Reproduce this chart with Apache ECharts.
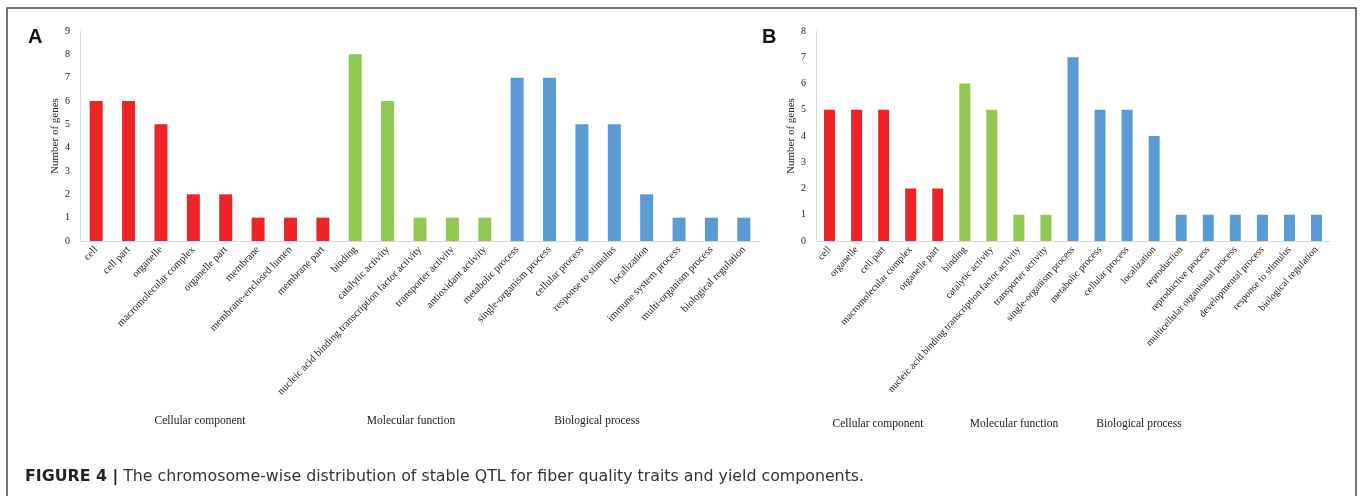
<!DOCTYPE html>
<html>
<head>
<meta charset="utf-8">
<script src="https://cdn.jsdelivr.net/npm/echarts@6/dist/echarts.min.js"></script>
<style>
html, body { margin: 0; padding: 0; background: #fff; }
#chart { width: 1360px; height: 496px; }
</style>
</head>
<body>
<div id="chart"></div>
<script>
// panel A
const catsA = ['cell', 'cell part', 'organelle', 'macromolecular complex', 'organelle part', 'membrane',
  'membrane-enclosed lumen', 'membrane part', 'binding', 'catalytic activity',
  'nucleic acid binding transcription factor activity', 'transporter activity', 'antioxidant activity',
  'metabolic process', 'single-organism process', 'cellular process', 'response to stimulus',
  'localization', 'immune system process', 'multi-organism process', 'biological regulation']
const valsA = [6, 6, 5, 2, 2, 1, 1, 1, 8, 6, 1, 1, 1, 7, 7, 5, 5, 2, 1, 1, 1]
const groupSizesA = [8, 5, 8]

// panel B
const catsB = ['cell', 'organelle', 'cell part', 'macromolecular complex', 'organelle part', 'binding',
  'catalytic activity', 'nucleic acid binding transcription factor activity', 'transporter activity',
  'single-organism process', 'metabolic process', 'cellular process', 'localization', 'reproduction',
  'reproductive process', 'multicellular organismal process', 'developmental process',
  'response to stimulus', 'biological regulation']
const valsB = [5, 5, 5, 2, 2, 6, 5, 1, 1, 7, 5, 5, 4, 1, 1, 1, 1, 1, 1]
const groupSizesB = [5, 4, 10]

const groupNames = ['Cellular component', 'Molecular function', 'Biological process']
const yTicksA = [0, 9]
const yTicksB = [0, 8]

const colors = ['#ee2328', '#92c953', '#5b9bd5']
const serif = '"Liberation Serif", "Times New Roman", serif'
const sans = '"Liberation Sans", Arial, sans-serif'

function coloredData (vals, sizes) {
  const out = []
  let g = 0
  let left = sizes[0]
  vals.forEach(v => {
    while (left === 0) { g++; left = sizes[g] }
    out.push({ value: v, itemStyle: { color: colors[g] } })
    left--
  })
  return out
}

function xAxisFor (idx, cats, rot, size) {
  return {
    type: 'category',
    gridIndex: idx,
    data: cats,
    axisLine: { lineStyle: { color: '#d9d9d9', width: 1 } },
    axisTick: { show: false },
    axisLabel: {
      interval: 0,
      rotate: rot,
      margin: 7,
      fontFamily: serif,
      fontSize: size,
      color: '#222'
    }
  }
}

function yAxisFor (idx, ticks) {
  return {
    type: 'value',
    gridIndex: idx,
    min: ticks[0],
    max: ticks[1],
    interval: 1,
    name: 'Number of genes',
    nameLocation: 'middle',
    nameGap: 19,
    nameTextStyle: { fontFamily: serif, fontSize: 11, color: '#222' },
    axisLine: { show: true, lineStyle: { color: '#d9d9d9' } },
    axisTick: { show: false },
    splitLine: { show: false },
    axisLabel: { fontFamily: serif, fontSize: 10, color: '#222', margin: 10 }
  }
}

const myChart = echarts.init(document.getElementById('chart'))

const groupText = (x, y, t) => ({
  type: 'text', x: x, y: y,
  style: { text: t, fontFamily: serif, fontSize: 11.5, fill: '#222', align: 'center', verticalAlign: 'middle' }
})

const option = {
  animation: false,
  grid: [
    { left: 80, top: 31, width: 680, height: 210 },
    { left: 816, top: 31, width: 514, height: 210 }
  ],
  xAxis: [xAxisFor(0, catsA, 46, 10.5), xAxisFor(1, catsB, 48, 10)],
  yAxis: [yAxisFor(0, yTicksA), yAxisFor(1, yTicksB)],
  series: [
    { type: 'bar', xAxisIndex: 0, yAxisIndex: 0, barWidth: 13, data: coloredData(valsA, groupSizesA) },
    { type: 'bar', xAxisIndex: 1, yAxisIndex: 1, barWidth: 11, data: coloredData(valsB, groupSizesB) }
  ],
  graphic: [
    { type: 'rect', shape: { x: 7, y: 8, width: 1349, height: 520 }, style: { fill: 'none', stroke: '#444', lineWidth: 1.5 } },
    { type: 'text', x: 28, y: 27, style: { text: 'A', fontFamily: sans, fontWeight: 'bold', fontSize: 20, fill: '#111' } },
    { type: 'text', x: 762, y: 27, style: { text: 'B', fontFamily: sans, fontWeight: 'bold', fontSize: 20, fill: '#111' } },
    groupText(200, 421, groupNames[0]),
    groupText(411, 421, groupNames[1]),
    groupText(597, 421, groupNames[2]),
    groupText(878, 424, groupNames[0]),
    groupText(1014, 424, groupNames[1]),
    groupText(1139, 424, groupNames[2]),
    {
      type: 'text', x: 25, y: 469,
      style: {
        text: '{b|FIGURE 4 |} The chromosome-wise distribution of stable QTL for fiber quality traits and yield components.',
        fontFamily: '"DejaVu Sans", sans-serif', fontSize: 15.8, fill: '#333',
        rich: { b: { fontWeight: 'bold', fontFamily: '"DejaVu Sans", sans-serif', fontSize: 15.8, fill: '#222' } }
      }
    }
  ]
}
myChart.setOption(option)
</script>
</body>
</html>
